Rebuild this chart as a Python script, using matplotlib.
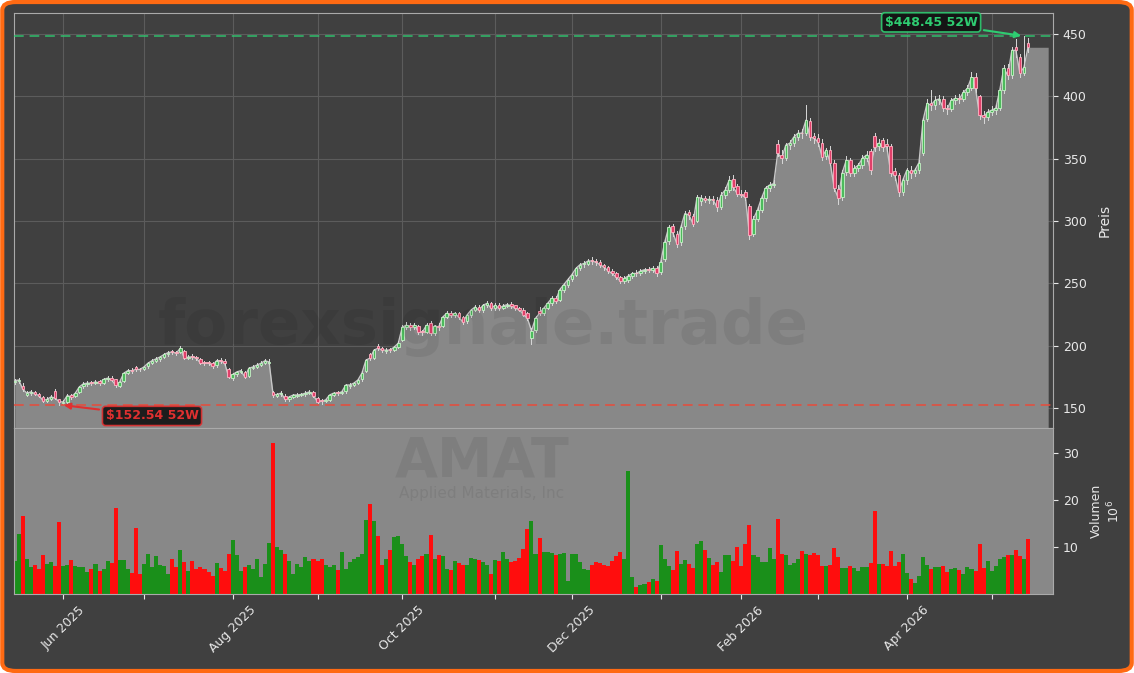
import numpy as np
import pandas as pd
import matplotlib
matplotlib.use('Agg')
import matplotlib.pyplot as plt
from matplotlib.patches import Rectangle, FancyBboxPatch

holidays = ['2025-05-26', '2025-06-19', '2025-07-04', '2025-09-01', '2025-11-27',
            '2025-12-25', '2026-01-01', '2026-01-19', '2026-02-16', '2026-04-03']
dates = pd.bdate_range('2025-05-14', '2026-05-14')
dates = dates[~dates.isin(pd.to_datetime(holidays))]

closes = [172, 172.5, 165, 162, 163, 161.5, 160, 156, 157, 159,
          158, 155, 155, 160, 159, 162, 167, 169.5, 170, 170,
          171, 170, 173, 174, 172.5, 168.5, 171, 178, 180, 180,
          181, 181, 183, 186, 188, 189.5, 191, 193, 194.5, 195,
          194, 198, 190, 191, 191, 190, 186, 186, 186, 184,
          188, 188, 186, 175, 177, 179, 180, 175, 182, 183,
          184.5, 186, 188, 187, 160.5, 161, 162, 157, 159, 160.5,
          160.5, 161, 162, 163, 160, 155, 155.5, 156.5, 160.5, 162,
          162, 163, 168.5, 168.5, 170, 172.5, 178, 188.5, 190, 196.5,
          198, 196.5, 196.5, 196.5, 199, 202, 215, 216.5, 215, 216.5,
          211, 211, 216.5, 210, 216, 215, 223, 226, 224.5, 226,
          223, 219, 224.5, 228.5, 231, 228.5, 232.5, 234, 230, 232.5,
          230, 232, 233, 232, 230, 229, 225, 222, 212, 222,
          226, 230, 234, 238, 236, 245, 249, 253, 257, 262,
          265, 266, 268, 268, 267, 265, 263, 260, 258, 255,
          252, 254, 256, 258, 258, 260, 261, 261, 262, 258,
          267, 283, 295, 291, 282, 295, 306, 305, 298, 319,
          318.5, 317, 317.5, 317, 311, 321, 325, 333, 327, 322,
          321, 319, 289, 302, 309, 318.5, 326.5, 329, 330, 354.5,
          350.5, 361, 362.5, 367.5, 370.5, 370.5, 381, 367.5, 366.5, 363.5,
          351.5, 357, 347, 326.5, 318.5, 339, 349, 338.5, 342.5, 345,
          350.5, 353, 341, 359.5, 362.5, 359.5, 360, 339, 337, 323,
          333, 341, 338.5, 341, 347, 381, 394.5, 393, 397, 398,
          391, 390, 397, 398.5, 398, 403.5, 406.5, 415.5, 406.5, 385,
          383.5, 387.5, 389, 390.5, 405, 422.5, 417, 437, 437, 418.5,
          423.5, 439.5]

opens = [171, 171.5, 168, 160.5, 162, 163, 161, 159, 156, 157.5,
         164, 157, 154, 155, 160.5, 159.5, 163, 167.5, 169, 170.5,
         170, 171.5, 170.5, 173, 174.5, 173, 168, 172, 178.5, 180.5,
         183, 181.5, 181.5, 183.5, 186.5, 188, 189.5, 191, 193, 195.5,
         195, 195, 196, 190.5, 191.5, 191, 189.5, 186.5, 186.5, 186,
         184.5, 188.5, 188, 181, 174, 177, 179, 179, 176, 182.5,
         183, 184.5, 186.5, 186, 163, 160, 161.5, 160, 157.5, 159,
         160, 160.5, 161, 162, 163, 158, 156, 155.5, 156.5, 160.5,
         162.5, 162, 163.5, 168, 168.5, 170, 173, 180, 193, 190.5,
         200, 198, 196, 197, 196.5, 199, 205, 215, 217, 215,
         216, 211.5, 211, 218, 210.5, 216, 216, 223, 226.5, 224.5,
         226, 223, 219.5, 224.5, 228.5, 231.5, 228.5, 232.5, 234, 230,
         233, 230.5, 232, 233.5, 232.5, 230.5, 229, 226, 206, 213,
         228, 226.5, 230.5, 234, 238.5, 237, 245, 249, 253.5, 257,
         262, 265.5, 266, 268.5, 268, 267, 265, 263, 260, 258,
         255, 252, 252.5, 256, 258.5, 258, 260, 261.5, 261, 262.5,
         259, 270, 284, 296, 290, 283, 296, 307, 304, 300,
         316, 318.5, 317, 318, 317, 311.5, 321, 325, 334, 328,
         322, 323, 312, 290, 302, 309, 318.5, 326.5, 329, 362,
         353, 351, 361, 363, 367.5, 371, 371, 380, 368, 367,
         363, 352, 357, 347, 326, 319, 339.5, 349, 338.5, 342.5,
         345, 350.5, 356, 368, 360, 365, 362, 360, 340, 337,
         323, 333, 341, 338.5, 341, 355, 382, 395, 393, 397.5,
         398, 391, 390, 397, 399, 398, 403.5, 407, 416, 400,
         385, 383.5, 387.5, 389, 391, 405, 423, 417, 440, 432,
         419, 443]

highs = [173.5, 174, 170.5, 163.5, 164.5, 164, 162, 159.5, 158.5, 160.5,
         165, 157.5, 156.5, 161, 161.5, 163, 168, 171, 171.5, 172,
         172.5, 172.5, 174.5, 175.5, 175.5, 173.5, 172, 179, 181.5, 182,
         184, 182.5, 184, 187, 189.5, 191, 192, 194, 196, 197,
         196, 199.5, 196.5, 192.5, 193, 192, 190, 187.5, 188, 187,
         189.5, 190, 189, 182, 178.5, 180, 181.5, 180, 183, 184.5,
         186, 187.5, 189, 189.5, 164, 162.5, 163.5, 161, 160, 161.5,
         162, 162.5, 163.5, 164.5, 163.5, 158.5, 157.5, 157.5, 161.5, 163,
         163.5, 164, 169.5, 170, 171, 173.5, 179.5, 189.5, 194.5, 197.5,
         201.5, 199, 198, 198.5, 200, 203.5, 216.5, 219, 218.5, 218,
         217, 213, 218, 220, 217, 218, 224, 227.5, 228, 227,
         227, 224, 225.5, 229.5, 232.5, 233, 233.5, 236, 235, 234,
         234.5, 233.5, 234.5, 235, 233, 231.5, 230, 227, 214, 223.5,
         231, 231.5, 235.5, 240, 240, 246.5, 250.5, 254.5, 258.5, 263.5,
         266.5, 268, 270, 271.5, 269.5, 268.5, 266, 264, 261.5, 259,
         256, 256, 257.5, 259.5, 260.5, 261.5, 262.5, 263, 264, 264,
         268.5, 285, 297, 298, 292, 296.5, 308, 309, 306, 321,
         321, 320.5, 320, 320, 319, 323, 327, 336, 337, 330,
         325, 325, 314, 304, 311, 321, 328.5, 331, 333, 365,
         357, 363, 365, 370, 373, 374, 393, 383, 371, 370,
         366, 359, 360, 349, 329, 341, 352, 351, 345, 347,
         353, 356, 358, 371, 366, 367, 366, 362, 343, 339,
         335, 343, 344, 343, 349, 383, 398, 405, 400, 401,
         400, 393, 399, 401, 402, 405.5, 409, 420, 419, 401,
         388, 390, 392, 393, 407, 425, 426, 440, 446, 434,
         448.45, 447]

lows = [169.5, 170.5, 164, 159.5, 160.5, 160.5, 158.5, 155, 155, 156.5,
        157, 152.54, 153, 154, 157.5, 158.5, 162, 166.5, 168, 168.5,
        169, 168.5, 169.5, 172, 171.5, 167, 167, 171, 177, 178.5,
        180, 179.5, 180.5, 182.5, 185, 187, 188, 190, 192, 193.5,
        192.5, 194, 189, 189, 189.5, 188.5, 185, 184.5, 184.5, 182.5,
        183, 186.5, 184.5, 174, 172.5, 176, 178, 174, 175, 181,
        182, 183.5, 185.5, 185, 158.5, 158.5, 160, 156, 156, 158,
        159, 159.5, 160, 161, 159, 154, 153.5, 154.5, 155.5, 159.5,
        160.5, 161, 162.5, 166.5, 167.5, 169, 172, 179, 188.5, 189,
        196.5, 195, 194.5, 195, 195.5, 198, 204, 213.5, 213, 213.5,
        209.5, 209, 210, 208.5, 209, 213, 215, 222, 223, 223,
        221.5, 217.5, 218, 223, 227.5, 227, 227, 231, 229, 229,
        229, 229.5, 231, 230.5, 228.5, 227.5, 223.5, 220.5, 201.5, 211,
        224.5, 225, 229.5, 233, 234.5, 236, 243.5, 247.5, 252, 256,
        260.5, 263.5, 264.5, 266, 265, 263, 261, 258.5, 256.5, 253.5,
        250, 250.5, 251, 254.5, 256, 256.5, 258.5, 259, 259.5, 256,
        257.5, 268, 282, 288, 279, 281, 294, 302, 296, 299,
        313, 315, 314.5, 314, 308, 309.5, 318.5, 323, 325, 320,
        319, 317, 286, 288, 300, 307, 316.5, 324, 327, 352,
        347, 349, 358, 360, 365, 367, 369, 365, 363, 360,
        349, 349.5, 345, 324, 314, 317, 337, 336, 336, 340,
        343, 348, 338, 356, 357, 356, 356, 336, 333, 320,
        321, 330, 335, 336, 339, 353, 380, 389, 390, 394,
        388, 386, 388, 394, 395, 396, 401, 405, 404, 382,
        379, 381, 385, 386, 389, 403, 414, 415, 432, 416,
        417, 436]

volumes = [7, 12.7, 16.5, 7.4, 5.7, 6.1, 5.3, 8.2, 6.3, 6.7,
           6, 15.2, 5.9, 6.1, 7.2, 5.9, 5.7, 5.7, 4.6, 5.3,
           6.3, 4.8, 5.3, 7, 6.5, 18.3, 7.2, 7.2, 5.3, 4.5,
           14.1, 4.2, 6.3, 8.4, 5.7, 8.0, 6.1, 5.9, 4.2, 7.4,
           5.7, 9.3, 6.7, 4.8, 6.9, 5.3, 5.7, 5.3, 4.6, 3.8,
           6.5, 5.5, 4.8, 8.5, 11.4, 8.2, 4.8, 5.7, 6.1, 5.3,
           7.4, 3.6, 6.3, 10.9, 32.0, 10, 9.3, 8.5, 7.0, 4.2,
           6.3, 5.7, 7.8, 6.9, 7.4, 7.0, 7.4, 6.1, 5.7, 6.1,
           5.1, 8.8, 5.3, 6.7, 7.4, 7.8, 8.5, 15.6, 19.0, 15.5,
           12.4, 6.1, 7.4, 9.3, 12.0, 12.4, 10.5, 8.0, 6.7, 6.1,
           7.4, 8.0, 8.4, 12.6, 7.4, 8.2, 8.0, 5.3, 5.1, 7.0,
           6.5, 6.1, 6.1, 7.6, 7.4, 7.2, 6.7, 6.1, 4.2, 7.2,
           6.9, 9.0, 7.4, 6.7, 6.9, 7.6, 9.5, 13.7, 15.4, 8.4,
           11.8, 9.0, 8.8, 8.6, 8.2, 8.4, 8.6, 2.7, 8.4, 8.4,
           6.7, 5.3, 5.1, 6.1, 6.7, 6.5, 6.1, 5.9, 6.9, 8.0,
           8.8, 7.5, 26.0, 3.6, 1.5, 1.9, 2.1, 2.5, 3.2, 2.7,
           10.3, 7.4, 5.9, 5.1, 9.1, 6.3, 7.2, 6.3, 5.5, 10.5,
           11.2, 9.3, 7.6, 6.1, 6.7, 4.6, 8.2, 8.2, 6.9, 9.9,
           5.9, 10.5, 14.7, 8.2, 7.8, 6.7, 6.7, 9.7, 7.5, 15.8,
           8.4, 8.2, 6.1, 6.5, 7.4, 9.1, 8.4, 8.2, 8.6, 8.2,
           5.9, 5.9, 6.1, 9.7, 7.8, 5.5, 5.5, 5.9, 5.5, 4.8,
           5.7, 5.7, 6.5, 17.5, 6.3, 6.3, 5.9, 9.1, 5.9, 6.7,
           8.4, 4.4, 3.2, 2.3, 3.8, 7.8, 6.1, 5.3, 5.7, 5.7,
           5.9, 4.6, 5.3, 5.5, 5.1, 4.2, 5.7, 5.3, 4.9, 10.5,
           5.5, 6.9, 4.8, 5.9, 7.4, 7.8, 8.2, 8.2, 9.3, 8.0,
           7.5, 11.6]

hi52, lo52 = 448.45, 152.54
hi_idx, lo_idx = 250, 11
ticker, company, brand = 'AMAT', 'Applied Materials, Inc', 'forexsignale.trade'

n = len(closes)
fig = plt.figure(figsize=(11.34, 6.73), dpi=100, facecolor='white')
border = FancyBboxPatch((0.002, 0.003), 0.996, 0.994,
                        boxstyle='round,pad=0,rounding_size=0.012',
                        transform=fig.transFigure, facecolor='#404040',
                        edgecolor='#ff6a13', linewidth=3, zorder=-10)
fig.patches.append(border)

ax = fig.add_axes([0.0123, 0.364, 0.9163, 0.6167])
axv = fig.add_axes([0.0123, 0.1174, 0.9163, 0.2466], sharex=ax)

x = np.arange(n)
ax.set_facecolor('#404040')
xf = np.concatenate([x, np.arange(n, n + 5)])
cf = np.concatenate([closes, [closes[-1]] * 5])
ax.fill_between(xf, cf, 0, color='#888888', zorder=2, linewidth=0)
ax.plot(x, closes, color='#c8c8c8', lw=1.0, zorder=3)

for i in range(n):
    o, c, h, l = opens[i], closes[i], highs[i], lows[i]
    up = c >= o
    ax.plot([i, i], [l, h], color='#d8d8d8', lw=0.7, zorder=4)
    body = Rectangle((i - 0.32, min(o, c)), 0.64, max(abs(c - o), 0.6),
                     facecolor='#4cbb5c' if up else '#e0406a',
                     edgecolor='#c8f0c8' if up else '#ffb3c3', lw=0.6, zorder=5)
    ax.add_patch(body)

ax.axhline(hi52, color='#2ecc71', ls=(0, (5, 3)), lw=1.4, alpha=0.7, zorder=6)
ax.axhline(lo52, color='#e74c3c', ls=(0, (5, 3)), lw=1.4, alpha=0.8, zorder=6)

ax.annotate(f'${hi52:.2f} 52W', xy=(hi_idx, hi52), xytext=(227, 459.5),
            color='#2ecc71', fontsize=9, fontweight='bold', ha='center', va='center',
            bbox=dict(boxstyle='round,pad=0.25', fc='#111111', ec='#2ecc71', lw=1.2, alpha=0.9),
            arrowprops=dict(arrowstyle='-|>', color='#2ecc71', lw=1.5), zorder=10)
ax.annotate(f'${lo52:.2f} 52W', xy=(lo_idx + 0.5, lo52), xytext=(34, 143.7),
            color='#e03030', fontsize=9, fontweight='bold', ha='center', va='center',
            bbox=dict(boxstyle='round,pad=0.25', fc='#111111', ec='#e03030', lw=1.2, alpha=0.9),
            arrowprops=dict(arrowstyle='-|>', color='#e03030', lw=1.5), zorder=10)

ax.set_ylim(134, 467)
ax.set_xlim(-0.2, 257.2)
ax.yaxis.tick_right()
ax.yaxis.set_label_position('right')
ax.set_yticks([150, 200, 250, 300, 350, 400, 450])
ax.set_ylabel('Preis', color='#e8e8e8', fontsize=10, labelpad=8)
ax.grid(True, color='#5c5c5c', lw=0.8, zorder=0)
ax.set_axisbelow(True)

month_idx, month_lab = [], []
prev = None
for i, d in enumerate(dates):
    if prev is not None and d.month != prev:
        month_idx.append(i)
        month_lab.append(d.strftime('%b %Y') if d.month % 2 == 0 else '')
    prev = d.month
ax.set_xticks(month_idx)
plt.setp(ax.get_xticklabels(), visible=False)
ax.tick_params(axis='x', length=0)

axv.set_facecolor('#888888')
vcol = ['#1a8f1a' if c >= o else '#ff0d0d' for o, c in zip(opens, closes)]
axv.bar(x, volumes, width=1.0, color=vcol, zorder=2)
axv.set_ylim(0, 35.2)
axv.yaxis.tick_right()
axv.yaxis.set_label_position('right')
axv.set_yticks([10, 20, 30])
axv.set_ylabel('Volumen\n$10^6$', color='#e8e8e8', fontsize=9, labelpad=8)
axv.set_xticks(month_idx)
axv.set_xticklabels(month_lab, rotation=45)

for a in (ax, axv):
    a.tick_params(colors='#e8e8e8', labelsize=9)
    for s in a.spines.values():
        s.set_color('#aaaaaa')

fig.text(0.426, 0.514, brand, fontsize=45, fontweight='bold',
         color='black', alpha=0.07, ha='center', va='center', zorder=20)
fig.text(0.425, 0.315, ticker, fontsize=40, fontweight='bold',
         color='black', alpha=0.07, ha='center', va='center', zorder=20)
fig.text(0.425, 0.267, company, fontsize=11,
         color='black', alpha=0.07, ha='center', va='center', zorder=20)

fig.savefig('out.png', dpi=100, facecolor=fig.get_facecolor())
